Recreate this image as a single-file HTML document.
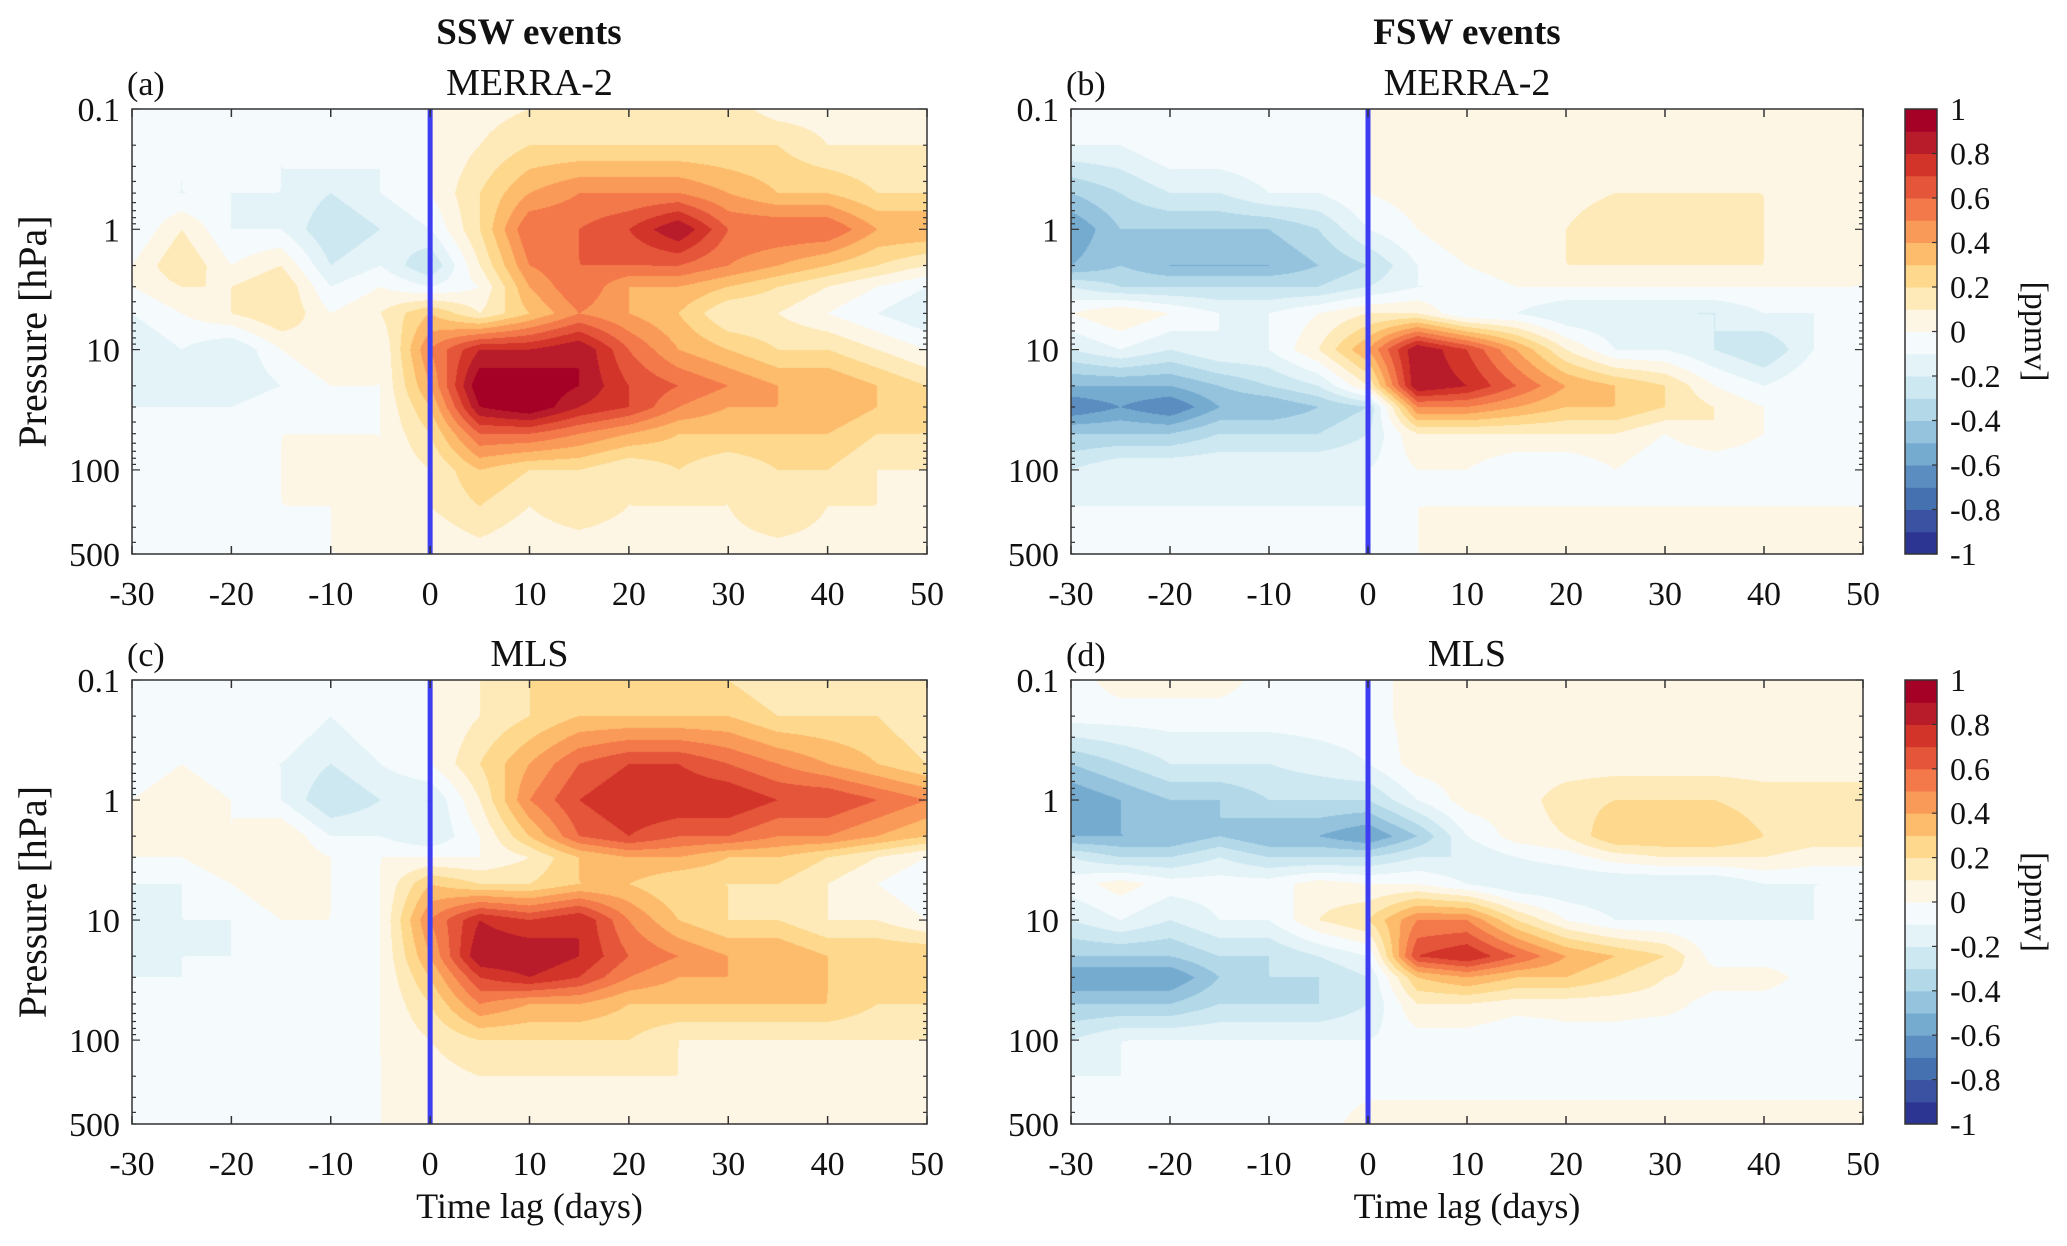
<!DOCTYPE html>
<html><head><meta charset="utf-8">
<style>
html,body{margin:0;padding:0;background:#fff;}
#root{position:relative;width:2067px;height:1246px;overflow:hidden;font-family:"Liberation Serif",serif;}
canvas{position:absolute;}
svg{position:absolute;left:0;top:0;}
</style></head>
<body>
<div id="root">
<canvas id="cva" width="795" height="445" style="left:132px;top:109px"></canvas>
<canvas id="cvb" width="792" height="445" style="left:1071px;top:109px"></canvas>
<canvas id="cvc" width="795" height="444" style="left:132px;top:680px"></canvas>
<canvas id="cvd" width="792" height="444" style="left:1071px;top:680px"></canvas>
<svg id="ov" width="2067" height="1246"></svg>
</div>
<script>
const lags = [-30,-25,-20,-15,-10,-5,0,5,10,15,20,25,30,35,40,45,50];
const pressures = [0.1,0.2,0.5,1,2,3,5,10,20,30,50,100,200,500];
const xTicks = [-30,-20,-10,0,10,20,30,40,50];
const yTicks = [0.1,1,10,100,500];
const cbTicks = [1,0.8,0.6,0.4,0.2,0,-0.2,-0.4,-0.6,-0.8,-1];
const colors = ["#2c3592","#3b52a3","#4571b1","#5b8dc1","#76abd0","#95c3de","#b3d9e9","#cde8f1","#e4f3f8","#f5fbfd",
"#fef6e5","#feeab8","#fdd88d","#fdbb6c","#fa9a58","#f3784a","#e5553a","#d23429","#b81b2a","#a50026"];

const dataA = [
[0,0,-0.1,0,0,-0.05,0,0.05,0.1,0.1,0.1,0.2,0.15,0.05,0.05,0.05,0.05],
[0,-0.1,0,-0.1,0,-0.1,0,0.1,0.2,0.2,0.2,0.2,0.2,0.2,0.1,0.1,0.1],
[-0.1,-0.1,-0.1,-0.1,-0.2,-0.1,0,0.2,0.4,0.5,0.5,0.5,0.4,0.3,0.3,0.2,0.2],
[-0.1,0.1,-0.1,-0.1,-0.3,-0.2,-0.1,0.2,0.6,0.6,0.7,0.9,0.6,0.6,0.6,0.4,0.4],
[0,0.2,0,0.1,-0.2,-0.1,-0.3,0.1,0.5,0.6,0.6,0.6,0.5,0.4,0.3,0.2,0.1],
[0,0.1,0.1,0.2,-0.1,0,-0.1,0,0.4,0.6,0.4,0.4,0.3,0.2,0.1,0,-0.1],
[-0.1,0,0.1,0.2,0,0.1,0.3,0.1,0.3,0.5,0.4,0.3,0.1,0.1,0,-0.1,-0.2],
[-0.2,-0.1,-0.2,0,0.1,0,0.5,0.8,0.8,0.9,0.6,0.4,0.3,0.2,0.2,0.1,0],
[-0.2,-0.1,-0.2,-0.1,0,0,0.4,1.0,1.0,0.9,0.7,0.6,0.5,0.4,0.4,0.3,0.2],
[-0.1,-0.1,-0.1,0,0,0,0.3,0.9,1.0,0.8,0.7,0.5,0.4,0.4,0.4,0.3,0.2],
[0,0,0,0,0,0,0.2,0.6,0.6,0.5,0.4,0.3,0.3,0.3,0.3,0.2,0.2],
[0,0,0,0,0.05,0,0.1,0.3,0.2,0.2,0.1,0.2,0.1,0.2,0.2,0.1,0.1],
[0,0,0,0,0,0.05,0.1,0.2,0.1,0.2,0.1,0.1,0.1,0.2,0.1,0.1,0.1],
[0,0,0,0,0,0,0,0.05,0,0,0,0,0.05,0.05,0.05,0.05,0.05]];
const dataB = [
[0,0,0,0,0,0,0,0.05,0.05,0.05,0.05,0.05,0.05,0.05,0.05,0.05,0.05],
[-0.1,-0.1,0,0,0,0,0,0.05,0.05,0.05,0.05,0.05,0.05,0.05,0.05,0.05,0.05],
[-0.4,-0.3,-0.2,-0.2,-0.1,-0.1,0,0.05,0.05,0.05,0.05,0.1,0.1,0.1,0.1,0.05,0.05],
[-0.6,-0.4,-0.4,-0.4,-0.4,-0.3,-0.1,0,0.1,0.1,0.1,0.2,0.2,0.2,0.1,0.1,0.1],
[-0.5,-0.4,-0.5,-0.5,-0.5,-0.4,-0.3,-0.1,0,0.1,0.1,0.1,0.1,0.1,0.1,0.05,0],
[-0.2,-0.3,-0.3,-0.3,-0.3,-0.3,-0.2,-0.1,-0.1,0,0,0,0,0,0,0,0],
[0,0.1,0,-0.1,-0.1,0,0.1,0.1,-0.1,-0.1,-0.2,-0.2,-0.2,-0.2,-0.1,-0.1,0],
[-0.2,-0.1,-0.2,-0.1,-0.1,0.1,0.4,0.9,0.7,0.4,0.1,-0.1,-0.1,-0.2,-0.3,-0.1,0],
[-0.5,-0.5,-0.5,-0.4,-0.3,-0.2,0.1,0.9,0.8,0.6,0.4,0.3,0.2,0,-0.1,0,0],
[-0.7,-0.6,-0.7,-0.5,-0.5,-0.4,-0.3,0.5,0.5,0.4,0.3,0.3,0.2,0.1,0,0,0],
[-0.4,-0.4,-0.4,-0.3,-0.3,-0.3,-0.2,0.1,0.1,0.1,0.1,0.1,0,0.1,0,0,0],
[-0.2,-0.1,-0.1,-0.1,-0.1,-0.1,-0.1,0,0,-0.1,-0.1,0,-0.1,-0.1,-0.1,-0.1,-0.1],
[-0.1,-0.1,-0.1,-0.1,-0.1,-0.1,-0.1,0,0,0,0,0,0,0,0,0,0],
[0,0,0,0,0,0,0,0,0.1,0.1,0.1,0.1,0.1,0.1,0.1,0.1,0]];
const dataC = [
[0,0,0,0,0,0,0,0.1,0.2,0.2,0.2,0.2,0.2,0.1,0.1,0.1,0.1],
[0,0,0,0,-0.1,0,0,0.1,0.2,0.3,0.3,0.3,0.3,0.2,0.2,0.2,0.1],
[-0.1,0,-0.1,-0.1,-0.2,-0.1,0,0.2,0.4,0.6,0.7,0.7,0.6,0.5,0.4,0.3,0.2],
[0,0.1,0,-0.1,-0.3,-0.2,-0.2,0.1,0.5,0.7,0.8,0.8,0.8,0.7,0.7,0.6,0.5],
[0,0.1,0,0.1,-0.1,-0.1,-0.2,0,0.3,0.6,0.7,0.6,0.6,0.5,0.5,0.4,0.3],
[0,0,0.1,0.1,0,0,0,0,0.1,0.3,0.4,0.4,0.3,0.3,0.2,0.1,0],
[-0.1,-0.1,0,0.1,0,0,0.3,0.2,0.2,0.3,0.3,0.2,0.2,0.2,0.1,0,-0.1],
[-0.2,-0.1,-0.1,0,0,0,0.5,0.8,0.7,0.8,0.5,0.3,0.2,0.2,0.1,0.1,0],
[-0.2,-0.1,-0.1,0,0,0,0.4,0.9,0.9,0.8,0.6,0.5,0.4,0.4,0.3,0.3,0.3],
[-0.1,-0.1,0,0,0,0,0.3,0.7,0.8,0.7,0.5,0.4,0.4,0.4,0.3,0.3,0.3],
[0,0,0,0,0,0,0.2,0.5,0.4,0.4,0.3,0.3,0.3,0.3,0.3,0.2,0.2],
[0,0,0,0,0,0,0.1,0.2,0.2,0.2,0.2,0.1,0.1,0.1,0.1,0.1,0.1],
[0,0,0,0,0,0,0.05,0.1,0.1,0.1,0.1,0.1,0.1,0.1,0.1,0.1,0.1],
[0,0,0,0,0,0,0.05,0.1,0.1,0.1,0.1,0.1,0.1,0.1,0.1,0.1,0.1]];
const dataD = [
[-0.05,0.05,0.05,0.05,-0.05,-0.05,-0.05,0.05,0.05,0.05,0.05,0.05,0.05,0.05,0.05,0.05,0.05],
[-0.05,-0.05,-0.05,-0.05,-0.05,-0.05,-0.05,0.05,0.05,0.05,0.05,0.05,0.05,0.05,0.05,0.05,0.05],
[-0.4,-0.3,-0.2,-0.2,-0.2,-0.15,-0.1,0.05,0.05,0.05,0.05,0.05,0.05,0.05,0.05,0.05,0.05],
[-0.6,-0.5,-0.4,-0.4,-0.3,-0.3,-0.3,-0.1,0.05,0.05,0.15,0.2,0.2,0.2,0.15,0.15,0.15],
[-0.5,-0.5,-0.5,-0.4,-0.5,-0.5,-0.6,-0.4,-0.1,0.05,0.1,0.3,0.3,0.3,0.2,0.15,0.15],
[-0.2,-0.3,-0.3,-0.2,-0.3,-0.3,-0.3,-0.2,-0.2,-0.1,-0.05,0.05,0.1,0.1,0.1,0.05,0.05],
[-0.05,0.05,-0.05,-0.05,-0.05,0.05,0,0,-0.1,-0.2,-0.2,-0.2,-0.2,-0.2,-0.1,-0.1,-0.1],
[-0.2,-0.1,-0.2,-0.1,-0.1,0.1,0.2,0.5,0.5,0.2,0,-0.1,-0.1,-0.1,-0.1,-0.1,-0.05],
[-0.4,-0.4,-0.4,-0.3,-0.3,-0.2,-0.1,0.7,0.8,0.6,0.4,0.3,0.2,-0.05,-0.05,-0.05,-0.05],
[-0.6,-0.6,-0.6,-0.4,-0.3,-0.3,-0.2,0.3,0.4,0.3,0.3,0.2,0.1,0.05,0.05,-0.05,-0.05],
[-0.4,-0.4,-0.4,-0.3,-0.3,-0.3,-0.2,0.1,0.1,0.05,0.05,0.05,0.05,-0.05,-0.05,-0.05,-0.05],
[-0.2,-0.1,-0.1,-0.1,-0.1,-0.1,-0.1,-0.05,-0.05,-0.1,-0.05,-0.05,-0.1,-0.05,-0.05,-0.05,-0.05],
[-0.1,-0.1,-0.05,-0.05,-0.05,-0.05,-0.05,-0.05,-0.05,-0.05,-0.05,-0.05,-0.05,-0.05,-0.05,-0.05,-0.05],
[-0.05,-0.05,-0.05,-0.05,-0.05,-0.05,0.05,0.05,0.05,0.05,0.05,0.05,0.05,0.05,0.05,0.05,0.05]];

const LMIN=-1, LMAX=Math.log10(500);
const panels=[
 {id:'cva',data:dataA,x:132,y:109,w:795,h:445,key:'a'},
 {id:'cvb',data:dataB,x:1071,y:109,w:792,h:445,key:'b'},
 {id:'cvc',data:dataC,x:132,y:680,w:795,h:444,key:'c'},
 {id:'cvd',data:dataD,x:1071,y:680,w:792,h:444,key:'d'}];
const logP=pressures.map(p=>Math.log10(p));
function hex(c){return [parseInt(c.slice(1,3),16),parseInt(c.slice(3,5),16),parseInt(c.slice(5,7),16)];}
const rgb=colors.map(hex);
function xScale(P,t){return P.x+(t+30)/80*P.w;}
function yScale(P,p){return P.y+(Math.log10(p)-LMIN)/(LMAX-LMIN)*P.h;}

panels.forEach(P=>{
 const cv=document.getElementById(P.id),ctx=cv.getContext('2d');
 const img=ctx.createImageData(P.w,P.h);
 for(let j=0;j<P.h;j++){
  const lp=LMIN+(j+0.5)/P.h*(LMAX-LMIN);
  let r=0;while(r<logP.length-2&&logP[r+1]<lp)r++;
  let fy=(lp-logP[r])/(logP[r+1]-logP[r]);fy=Math.max(0,Math.min(1,fy));
  for(let i=0;i<P.w;i++){
   const t=-30+(i+0.5)/P.w*80;
   let c=Math.min(lags.length-2,Math.max(0,Math.floor((t+30)/5)));
   let fx=(t-lags[c])/(lags[c+1]-lags[c]);fx=Math.max(0,Math.min(1,fx));
   const d=P.data;
   const v=(d[r][c]*(1-fx)+d[r][c+1]*fx)*(1-fy)+(d[r+1][c]*(1-fx)+d[r+1][c+1]*fx)*fy;
   let L=Math.floor(v*10-1e-3)+10;L=Math.max(0,Math.min(19,L));
   const k=(j*P.w+i)*4,col=rgb[L];
   img.data[k]=col[0];img.data[k+1]=col[1];img.data[k+2]=col[2];img.data[k+3]=255;
  }
 }
 ctx.putImageData(img,0,0);
});

const NS='http://www.w3.org/2000/svg';
const ov=document.getElementById('ov');
function mk(tag,attrs,parent){const e=document.createElementNS(NS,tag);for(const k in attrs)e.setAttribute(k,attrs[k]);(parent||ov).appendChild(e);return e;}
function txt(s,x,y,size,anchor,extra){const e=mk('text',Object.assign({x:x,y:y,'font-size':size,'text-anchor':anchor||'middle','font-family':'Liberation Serif, serif',fill:'#111'},extra||{}));e.textContent=s;return e;}

panels.forEach((P,pi)=>{
 const g=mk('g',{});
 
 
 const zl=mk('line',{x1:xScale(P,0),x2:xScale(P,0),y1:P.y,y2:P.y+P.h,stroke:'#3d3df2','stroke-width':5},g);
 
 
 const fr=mk('rect',{x:P.x,y:P.y,width:P.w,height:P.h,fill:'none',stroke:'#333','stroke-width':1.5},g);
 
 
 xTicks.forEach(t=>{
  const x=xScale(P,t);
  mk('line',{x1:x,x2:x,y1:P.y+P.h,y2:P.y+P.h-8,stroke:'#333','stroke-width':1.5},g);
  mk('line',{x1:x,x2:x,y1:P.y,y2:P.y+8,stroke:'#333','stroke-width':1.5},g);
  const tl=txt(String(t),x,P.y+P.h+51,34,'middle');
  
  
 });
 for(let dec=-1;dec<3;dec++)for(let m=1;m<10;m++){
  const p=m*Math.pow(10,dec);if(p>500)break;
  const y=yScale(P,p);const len=m===1?8:4;
  mk('line',{x1:P.x,x2:P.x+len,y1:y,y2:y,stroke:'#333','stroke-width':1.2},g);
  mk('line',{x1:P.x+P.w,x2:P.x+P.w-len,y1:y,y2:y,stroke:'#333','stroke-width':1.2},g);
 }
 yTicks.forEach(p=>{
  const yl=txt(String(p),P.x-12,yScale(P,p)+12,34,'end');
  
  
 });
 const lab=txt('('+P.key+')',P.x-5,P.y-14,34,'start');
 
 
 const st=txt(pi<2?'MERRA-2':'MLS',P.x+P.w/2,P.y-14,38,'middle');
 
 
 if(pi%2===0){
  const yt=txt('Pressure [hPa]',0,0,40,'middle',{transform:'translate(46,'+(P.y+P.h/2)+') rotate(-90)'});
  
  
 }
 if(pi>=2){
  const xt=txt('Time lag (days)',P.x+P.w/2,1218,36,'middle');
  
  
 }
});
const t1=txt('SSW events',529,44,37,'middle',{'font-weight':'bold'});


const t2=txt('FSW events',1467,44,37,'middle',{'font-weight':'bold'});



[[109,445],[680,444]].forEach(([cy,ch])=>{
 const g=mk('g',{});
 
 
 const bx=1905,bw=32;
 colors.forEach((c,i)=>{
  const y0=cy+ch-(i+1)*ch/20;
  const r=mk('rect',{x:bx,y:y0,width:bw,height:ch/20+0.5,fill:c},g);
  
  
 });
 mk('rect',{x:bx,y:cy,width:bw,height:ch,fill:'none',stroke:'#333','stroke-width':1.5},g);
 cbTicks.forEach(v=>{
  const y=cy+(1-v)/2*ch;
  mk('line',{x1:bx+bw,x2:bx+bw-5,y1:y,y2:y,stroke:'#333','stroke-width':1.2},g);
  const l=txt(String(v),1950,y+11,32,'start');
  
  
 });
 const u=txt('[ppmv]',0,0,34,'middle',{transform:'translate(2025,'+(cy+ch/2)+') rotate(90)'});
 
 
});
</script>
</body></html>
